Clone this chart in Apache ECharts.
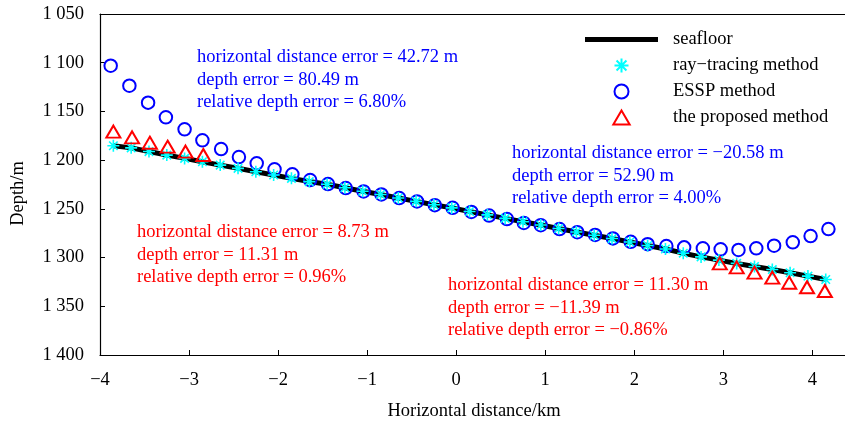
<!DOCTYPE html>
<html><head><meta charset="utf-8">
<script src="https://cdn.jsdelivr.net/npm/echarts/dist/echarts.min.js"></script>
<style>html,body{margin:0;padding:0;background:#fff}#c{width:845px;height:423px}</style>
</head><body><div id="c"></div><script>
// ---- data ----
const seriesNames = ['seafloor', 'ray\u2212tracing method', 'ESSP method', 'the proposed method'];
const xTickValues = [-4, -3, -2, -1, 0, 1, 2, 3, 4];
const yTickValues = [1050, 1100, 1150, 1200, 1250, 1300, 1350, 1400];

// ray-tracing points (horizontal distance, km / depth, m)
const rayX = [-3.85, -3.65, -3.45, -3.25, -3.05, -2.85, -2.65, -2.45, -2.25, -2.05, -1.85, -1.65, -1.45, -1.25, -1.05, -0.85, -0.65, -0.45, -0.25, -0.05, 0.15, 0.35, 0.55, 0.75, 0.95, 1.15, 1.35, 1.55, 1.75, 1.95, 2.15, 2.35, 2.55, 2.75, 2.95, 3.15, 3.35, 3.55, 3.75, 3.95, 4.15];
const rayDepth = [1185.2, 1187.4, 1191.2, 1194.8, 1198.2, 1201.6, 1205.1, 1208.4, 1211.9, 1215.3, 1218.7, 1222.0, 1224.8, 1228.4, 1231.9, 1235.2, 1238.8, 1242.3, 1245.8, 1249.0, 1252.7, 1256.2, 1259.8, 1263.3, 1266.6, 1270.2, 1273.7, 1277.1, 1280.5, 1284.0, 1287.6, 1291.2, 1295.5, 1299.3, 1302.6, 1306.0, 1309.2, 1312.3, 1315.6, 1319.0, 1322.5];

// seafloor profile
const seafloorX = rayX;
const seafloorDepth = rayDepth;

// ESSP method points
const esspX = [-3.88, -3.67, -3.46, -3.26, -3.05, -2.85, -2.64, -2.44, -2.24, -2.04, -1.84, -1.64, -1.44, -1.24, -1.04, -0.84, -0.64, -0.44, -0.24, -0.04, 0.17, 0.37, 0.57, 0.76, 0.95, 1.16, 1.36, 1.56, 1.76, 1.96, 2.15, 2.36, 2.56, 2.77, 2.97, 3.17, 3.37, 3.57, 3.78, 3.98, 4.18];
const esspDepth = [1103.1, 1123.6, 1141.0, 1156.0, 1168.3, 1179.6, 1188.6, 1196.8, 1203.2, 1209.4, 1214.5, 1220.4, 1224.5, 1228.6, 1232.1, 1235.2, 1238.9, 1242.4, 1246.2, 1248.9, 1253.2, 1256.9, 1260.5, 1264.5, 1266.8, 1270.8, 1274.0, 1276.8, 1280.3, 1283.8, 1286.2, 1288.2, 1289.5, 1290.5, 1291.5, 1292.2, 1290.5, 1287.8, 1284.3, 1277.9, 1270.7];

// proposed method points (only shown at both ends)
const propX = [-3.85, -3.64, -3.44, -3.24, -3.04, -2.84, 2.96, 3.15, 3.35, 3.55, 3.74, 3.94, 4.14];
const propDepth = [1170.8, 1176.6, 1182.1, 1186.2, 1191.3, 1194.7, 1306.0, 1310.1, 1315.5, 1320.6, 1325.8, 1330.5, 1334.3];

const annotations = [
  {lines: ['horizontal distance error = 42.72 m', 'depth error = 80.49 m', 'relative depth error = 6.80%'], color: '#0000ff'},
  {lines: ['horizontal distance error = \u221220.58 m', 'depth error = 52.90 m', 'relative depth error = 4.00%'], color: '#0000ff'},
  {lines: ['horizontal distance error = 8.73 m', 'depth error = 11.31 m', 'relative depth error = 0.96%'], color: '#ff0000'},
  {lines: ['horizontal distance error = 11.30 m', 'depth error = \u221211.39 m', 'relative depth error = \u22120.86%'], color: '#ff0000'}
];
const annotationPos = [[197, 46], [512, 142], [137, 221], [448, 274]];

// ---- chart ----
const FONT = '"Liberation Serif", "Times New Roman", serif';
const FS = 18.5;
const zip = (xs, ys) => xs.map((x, i) => [x, ys[i]]);
const asterisk = 'path://M0,-10L0,10M-10,0L10,0M-7.07,-7.07L7.07,7.07M-7.07,7.07L7.07,-7.07';
const fmtX = v => xTickValues.includes(v) ? (v < 0 ? '\u2212' + Math.abs(v) : String(v)) : '';
const fmtY = v => yTickValues.includes(v) ? Math.floor(v / 1000) + ' ' + String(v % 1000).padStart(3, '0') : '';

const chart = echarts.init(document.getElementById('c'), null, {renderer: 'canvas'});
chart.setOption({
  animation: false,
  backgroundColor: '#fff',
  textStyle: {fontFamily: FONT},
  grid: {left: 100, right: -3, top: 14, bottom: 68, containLabel: false, outerBoundsMode: 'none'},
  legend: {
    orient: 'vertical', left: 580, top: 25, itemWidth: 73, itemHeight: 14, itemGap: 7,
    textStyle: {fontFamily: FONT, fontSize: FS, color: '#000', padding: [0, 0, 0, 10], lineHeight: 18},
    data: [
      {name: seriesNames[0], icon: 'path://M0,0L73,0L73,5L0,5Z', itemStyle: {color: '#000', borderWidth: 0}},
      {name: seriesNames[1]},
      {name: seriesNames[2]},
      {name: seriesNames[3], icon: 'path://M7,0L14,12L0,12Z'}
    ]
  },
  xAxis: [{
    type: 'value', min: -4, max: 4.4, interval: 1,
    name: 'Horizontal distance/km', nameLocation: 'middle', nameGap: 47,
    nameTextStyle: {fontFamily: FONT, fontSize: FS, color: '#000'},
    axisLine: {show: true, onZero: false, lineStyle: {color: '#000', width: 1.2}},
    axisTick: {show: true, inside: true, length: 5, lineStyle: {color: '#000'}},
    axisLabel: {fontFamily: FONT, fontSize: FS, color: '#000', margin: 16, formatter: fmtX},
    splitLine: {show: false}
  }, {
    type: 'value', position: 'top', min: -4, max: 4.4, interval: 1,
    axisLine: {show: true, onZero: false, lineStyle: {color: '#000', width: 1.2}},
    axisTick: {show: false}, axisLabel: {show: false}, splitLine: {show: false}
  }],
  yAxis: {
    type: 'value', inverse: true, min: 1050, max: 1400, interval: 50,
    name: 'Depth/m', nameLocation: 'middle', nameGap: 72,
    nameTextStyle: {fontFamily: FONT, fontSize: FS, color: '#000', padding: [0, 18, 0, 0]},
    axisLine: {show: true, onZero: false, lineStyle: {color: '#000', width: 1.2}},
    axisTick: {show: true, inside: true, length: 5, lineStyle: {color: '#000'}},
    axisLabel: {fontFamily: FONT, fontSize: FS, color: '#000', margin: 16, formatter: fmtY},
    splitLine: {show: false}
  },
  series: [{
    name: seriesNames[0], type: 'line', data: zip(seafloorX, seafloorDepth),
    showSymbol: false, symbol: 'none', z: 1,
    lineStyle: {color: '#000', width: 5}, itemStyle: {color: '#000'}
  }, {
    name: seriesNames[1], type: 'scatter', data: zip(rayX, rayDepth), z: 4,
    symbol: asterisk, symbolSize: 12,
    itemStyle: {color: '#00ffff', borderColor: '#00ffff', borderWidth: 1.6, opacity: 1}
  }, {
    name: seriesNames[2], type: 'scatter', data: zip(esspX, esspDepth), z: 3,
    symbol: 'circle', symbolSize: 12.5,
    itemStyle: {color: 'rgba(0,0,0,0)', borderColor: '#0000ff', borderWidth: 2, opacity: 1}
  }, {
    name: seriesNames[3], type: 'scatter', data: zip(propX, propDepth), z: 5,
    symbol: 'triangle', symbolSize: [14, 12],
    itemStyle: {color: 'rgba(0,0,0,0)', borderColor: '#ff0000', borderWidth: 2, opacity: 1}
  }],
  graphic: annotations.map((a, i) => ({
    type: 'text', left: annotationPos[i][0], top: annotationPos[i][1], z: 10,
    style: {text: a.lines.join('\n'), fill: a.color, fontFamily: FONT, fontSize: FS, lineHeight: 22.5}
  }))
});
</script></body></html>
